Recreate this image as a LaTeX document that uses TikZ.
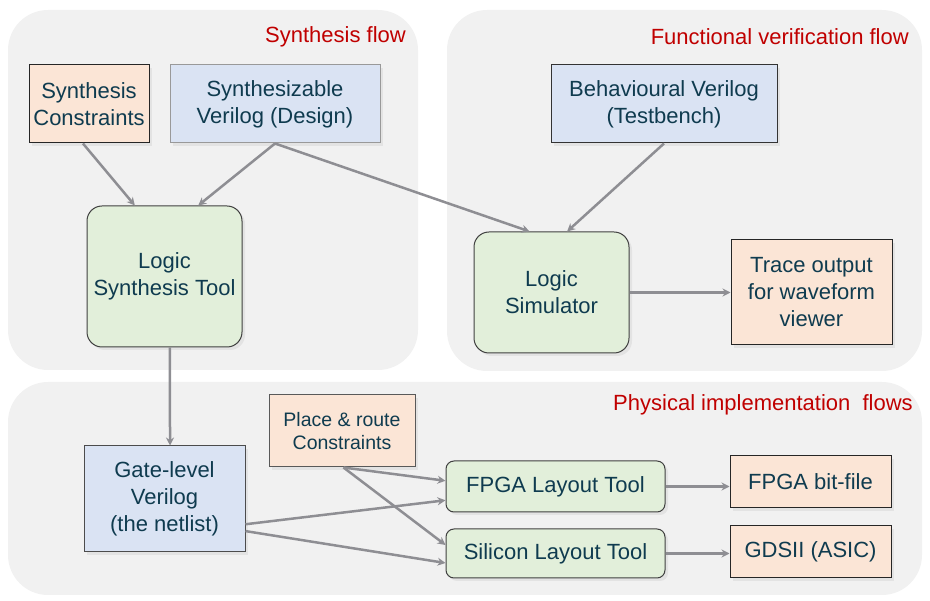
\documentclass[tikz,border=0pt]{standalone}
\usepackage{fontspec}
\setmainfont{Liberation Sans}
\usetikzlibrary{calc,shadows,arrows.meta}
\definecolor{panel}{HTML}{F1F1F1}
\definecolor{peach}{HTML}{FBE5D6}
\definecolor{bluef}{HTML}{DAE3F3}
\definecolor{greenf}{HTML}{E2EFDA}
\definecolor{txt}{HTML}{0F3B4F}
\definecolor{redt}{HTML}{C00000}
\definecolor{arr}{HTML}{8E8E93}
\tikzset{
  panelbox/.style={fill=panel, draw=none, rounded corners=40pt},
  box/.style={draw, line width=1pt, inner sep=0pt, align=center, text=txt,
    font=\fontsize{22}{27}\selectfont,
    drop shadow={opacity=0.12, shadow xshift=3pt, shadow yshift=-3pt}},
  peachbox/.style={box, fill=peach, draw=black!85},
  bluebox/.style={box, fill=bluef, draw=black!80},
  greenbox/.style={box, fill=greenf, draw=black!75, rounded corners=15pt},
  title/.style={text=redt, font=\fontsize{22}{26}\selectfont, anchor=east, inner sep=0pt},
  conn/.style={draw=arr, line width=2.5pt, -{Stealth[length=8pt,width=8pt]}}
}
\begin{document}
\begin{tikzpicture}[x=1pt,y=-1pt]
\useasboundingbox (0,0) rectangle (930,601);
% panels
\fill[panelbox] (8,10) rectangle (418,370);
\fill[panelbox] (447,10) rectangle (922,371);
\fill[panelbox] (8,382) rectangle (922,595);
% titles
\node[title] (t1) at (406,37) {Synthesis flow};
\node[title] (t2) at (909,37) {Functional verification flow};
\node[title] (t3) at (913,405) {Physical implementation\ \ flows};
% nodes
\node[peachbox, minimum width=120pt, minimum height=78pt] (sc) at (89,104) {Synthesis\\Constraints};
\node[bluebox, draw=black!40, minimum width=210pt, minimum height=78pt] (sv) at (275,104) {Synthesizable\\Verilog (Design)};
\node[greenbox, minimum width=155pt, minimum height=141pt] (lst) at (164.5,276.5) {Logic\\Synthesis Tool};
\node[bluebox, minimum width=226pt, minimum height=78pt] (bv) at (664,104) {Behavioural Verilog\\(Testbench)};
\node[greenbox, minimum width=155pt, minimum height=121pt] (ls) at (551.5,292.5) {Logic\\Simulator};
\node[peachbox, minimum width=161pt, minimum height=105pt] (tr) at (811.5,292.5) {Trace output\\for waveform\\viewer};
\node[bluebox, draw=black!70, minimum width=161pt, minimum height=106pt] (gl) at (164.5,499) {Gate-level\\Verilog\\(the netlist)};
\node[peachbox, draw=black!65, minimum width=146pt, minimum height=72pt, font=\fontsize{19.5}{23}\selectfont] (pr) at (342,431) {Place \& route\\Constraints};
\node[greenbox, rounded corners=8pt, minimum width=219pt, minimum height=51pt] (fl) at (555.5,486.5) {FPGA Layout Tool};
\node[greenbox, rounded corners=8pt, minimum width=219pt, minimum height=49pt] (sl) at (555.5,553.5) {Silicon Layout Tool};
\node[peachbox, minimum width=161pt, minimum height=52pt] (fb) at (810.5,482) {FPGA bit-file};
\node[peachbox, minimum width=161pt, minimum height=52pt] (gd) at (810.5,552) {GDSII (ASIC)};
% connectors
\draw[conn] ($(sc.south west)!0.45!(sc.south east)$) -- ($(lst.north west)!0.31!(lst.north east)$);
\draw[conn] (sv.south) -- ($(lst.north west)!0.716!(lst.north east)$);
\draw[conn] (sv.south) -- ($(ls.north west)!0.36!(ls.north east)$);
\draw[conn] (bv.south) -- ($(ls.north west)!0.6!(ls.north east)$);
\draw[conn] (ls.east) -- (tr.west);
\draw[conn] ($(lst.south west)!0.535!(lst.south east)$) -- ($(gl.north west)!0.534!(gl.north east)$);
\draw[conn] ($(gl.north east)!0.736!(gl.south east)$) -- ($(fl.north west)!0.765!(fl.south west)$);
\draw[conn] ($(gl.north east)!0.80!(gl.south east)$) -- ($(sl.north west)!0.69!(sl.south west)$);
\draw[conn] ($(pr.south west)!0.51!(pr.south east)$) -- ($(fl.north west)!0.39!(fl.south west)$);
\draw[conn] ($(pr.south west)!0.51!(pr.south east)$) -- ($(sl.north west)!0.33!(sl.south west)$);
\draw[conn] (fl.east) -- (fb.west |- fl.east);
\draw[conn] (sl.east) -- (gd.west |- sl.east);
\end{tikzpicture}
\end{document}
